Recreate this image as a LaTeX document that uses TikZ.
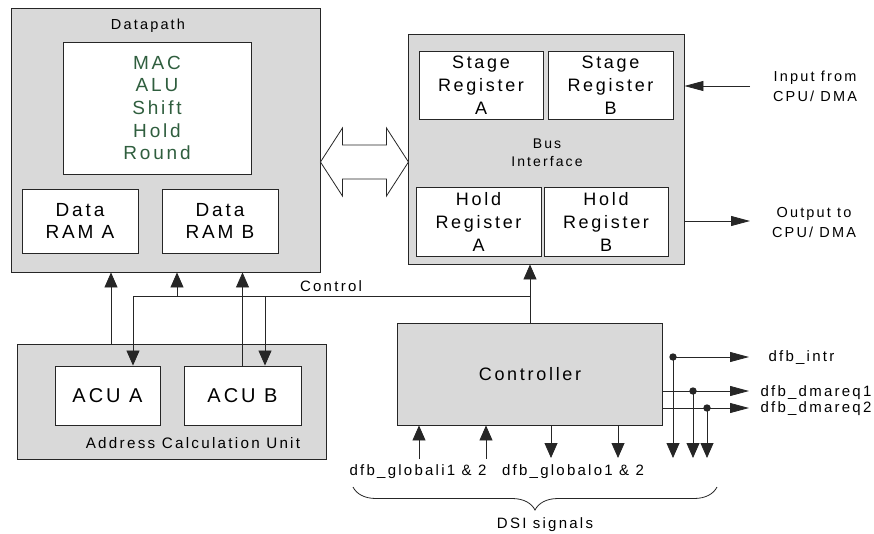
\documentclass[tikz,border=0pt]{standalone}
\usepackage{fontspec}
\setmainfont{Liberation Sans}[LetterSpace=15]
\usetikzlibrary{arrows.meta,decorations.pathreplacing}
\definecolor{boxgrey}{HTML}{D9D9D9}
\definecolor{dpgreen}{HTML}{2F5E3E}
\definecolor{linegrey}{HTML}{262626}
\newcommand{\fsz}[2]{\fontsize{#1}{#2}\selectfont}
\tikzset{
  greybox/.style={draw=linegrey, fill=boxgrey, line width=0.9pt, inner sep=0pt},
  whitebox/.style={draw=linegrey, fill=white, line width=0.9pt, inner sep=0pt, align=center},
  arr/.style={draw=linegrey, line width=0.8pt, -{Triangle[length=15pt,width=13pt]}},
  sigarr/.style={draw=linegrey, line width=0.8pt, -{Triangle[length=19pt,width=10pt]}},
  wire/.style={draw=linegrey, line width=0.8pt},
  small/.style={font=\fsz{15}{17}}
}
\begin{document}
\begin{tikzpicture}[x=1pt, y=-1pt]
    \useasboundingbox (0,0) rectangle (874,533);

    % Datapath
    \node[greybox, minimum width=309, minimum height=264] (dp) at (165.5,140) {};
    \node[font=\fsz{14.5}{16}, anchor=base] (dplbl) at (148,29) {Datapath};
    \node[whitebox, minimum width=188, minimum height=132, text=dpgreen, font=\fsz{19}{22.7}] (alu) at (157,108) {MAC\\ALU\\Shift\\Hold\\Round};
    \node[whitebox, minimum width=116, minimum height=64, font=\fsz{19}{21.7}] (rama) at (80,221) {Data\\RAM A};
    \node[whitebox, minimum width=116, minimum height=64, font=\fsz{19}{21.7}] (ramb) at (220,221) {Data\\RAM B};

    % Bus interface
    \node[greybox, minimum width=276, minimum height=230] (bus) at (546,149) {};
    \node[whitebox, minimum width=124, minimum height=68, font=\fsz{18}{23}] (stga) at (481,85) {Stage\\Register\\A};
    \node[whitebox, minimum width=125, minimum height=68, font=\fsz{18}{23}] (stgb) at (610.5,85) {Stage\\Register\\B};
    \node[whitebox, minimum width=125, minimum height=69, font=\fsz{18}{23}] (hlda) at (478.5,221.5) {Hold\\Register\\A};
    \node[whitebox, minimum width=124, minimum height=69, font=\fsz{18}{23}] (hldb) at (606,221.5) {Hold\\Register\\B};
    \node[font=\fsz{14}{18}, align=center] (buslbl) at (547,153) {Bus\\Interface};

    % Link between datapath and bus interface
    \coordinate (lnk) at (dp.east |- 0,162);
    \draw[wire, fill=white, line join=miter] (lnk) -- ++(22,-34) -- ++(0,17) -- ++(44,0) -- ++(0,-17)
        -- ++(22,34) -- ++(-22,34) -- ++(0,-17) -- ++(-44,0) -- ++(0,17) -- cycle;

    % Controller and address calculation unit
    \node[greybox, minimum width=265, minimum height=102, font=\fsz{18}{22}] (ctrl) at (530,374) {Controller};
    \node[greybox, minimum width=309, minimum height=115] (acu) at (171.5,401.5) {};
    \node[whitebox, minimum width=105, minimum height=59, font=\fsz{20}{22}] (acua) at (107.5,395.5) {ACU A};
    \node[whitebox, minimum width=117, minimum height=59, font=\fsz{20}{22}] (acub) at (242.5,395.5) {ACU B};
    \node[font=\fsz{15.2}{17}] (aculbl) at (193,443.5) {Address Calculation Unit};

    % Control bus
    \coordinate (ctljoin) at (530,296);
    \coordinate (ctla) at (133,296);
    \coordinate (ctlb) at (265,296);
    \coordinate (ctlc) at (177,296);
    \coordinate (acuup) at (111,0);
    \draw[arr] (ctrl.north) -- (ctrl.north |- bus.south);
    \draw[wire] (ctljoin) -- (ctla);
    \draw[arr] (ctla) -- (ctla |- acua.north);
    \draw[arr] (ctlb) -- (ctlb |- acub.north);
    \draw[arr] (ctlc) -- (ctlc |- dp.south);
    \draw[arr] (acuup |- acu.north) -- (acuup |- dp.south);
    \draw[arr] (acub.north) -- (acub.north |- dp.south);
    \node[small, anchor=base] (ctllbl) at (331,291) {Control};

    % CPU / DMA
    \coordinate (inp) at (750,86);
    \coordinate (outp) at (750,221);
    \draw[sigarr] (inp) -- (inp -| bus.east);
    \draw[sigarr] (outp -| bus.east) -- (outp);
    \node[font=\fsz{14.5}{20}, align=center] (inplbl) at (815,86) {Input from\\CPU/ DMA};
    \node[font=\fsz{14.5}{20}, align=center] (outlbl) at (814,223) {Output to\\CPU/ DMA};

    % Global signals
    \coordinate (gi1) at (419,459);
    \coordinate (gi2) at (486,459);
    \coordinate (go1) at (551,458);
    \coordinate (go2) at (618,458);
    \draw[arr] (gi1) -- (gi1 |- ctrl.south);
    \draw[arr] (gi2) -- (gi2 |- ctrl.south);
    \draw[arr] (go1 |- ctrl.south) -- (go1);
    \draw[arr] (go2 |- ctrl.south) -- (go2);
    \node[small, anchor=base] (gilbl) at (418,475) {dfb\_globali1 \& 2};
    \node[small, anchor=base] (golbl) at (573,475) {dfb\_globalo1 \& 2};

    % Interrupt and DMA request
    \coordinate (sigbot) at (0,458);
    \coordinate (intr) at (749,357);
    \coordinate (intrdot) at (673,357);
    \coordinate (dma1) at (749,391);
    \coordinate (dma1dot) at (693,391);
    \coordinate (dma2) at (749,408);
    \coordinate (dma2dot) at (707,408);
    \draw[sigarr] (intrdot) -- (intr);
    \draw[sigarr] (dma1 -| ctrl.east) -- (dma1);
    \draw[sigarr] (dma2 -| ctrl.east) -- (dma2);
    \draw[arr] (intrdot) -- (intrdot |- sigbot);
    \draw[arr] (dma1dot) -- (dma1dot |- sigbot);
    \draw[arr] (dma2dot) -- (dma2dot |- sigbot);
    \fill[linegrey] (intrdot) circle (3.7) (dma1dot) circle (3.7) (dma2dot) circle (3.7);
    \node[small, anchor=base west] (intrlbl) at (765,361) {dfb\_intr};
    \node[small, anchor=base west] (dma1lbl) at (757,396) {dfb\_dmareq1};
    \node[small, anchor=base west] (dma2lbl) at (757,412) {dfb\_dmareq2};

    % DSI brace
    \coordinate (dsil) at (353,487);
    \coordinate (dsir) at (717,487);
    \draw[wire, decorate, decoration={brace, mirror, amplitude=23}] (dsil) -- (dsir);
    \node[small, anchor=base] (dsilbl) at (545,528) {DSI signals};
\end{tikzpicture}
\end{document}
